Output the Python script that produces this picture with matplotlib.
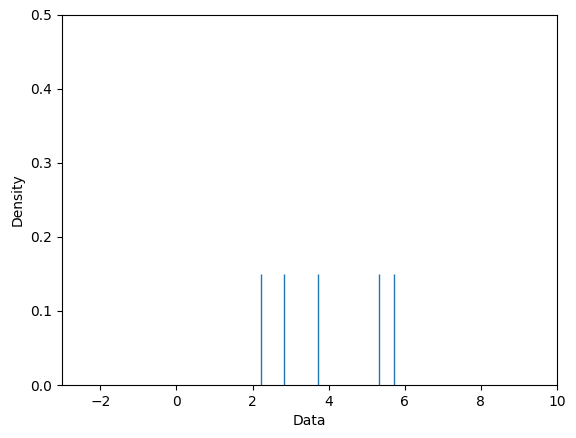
import matplotlib
matplotlib.use("Agg")
import matplotlib.pyplot as plt

data = [2.21, 2.82, 3.71, 5.32, 5.71]
rug_height = 0.15

fig, ax = plt.subplots(figsize=(5.76, 4.38), dpi=100)
fig.subplots_adjust(left=0.108, right=0.967, top=0.966, bottom=0.121)
ax.vlines(data, 0, rug_height, color="#1f77b4", linewidth=1)
ax.set_xlim(-3, 10)
ax.set_ylim(0, 0.5)
ax.set_xlabel("Data")
ax.set_ylabel("Density")
fig.savefig("out.png", dpi=100)
